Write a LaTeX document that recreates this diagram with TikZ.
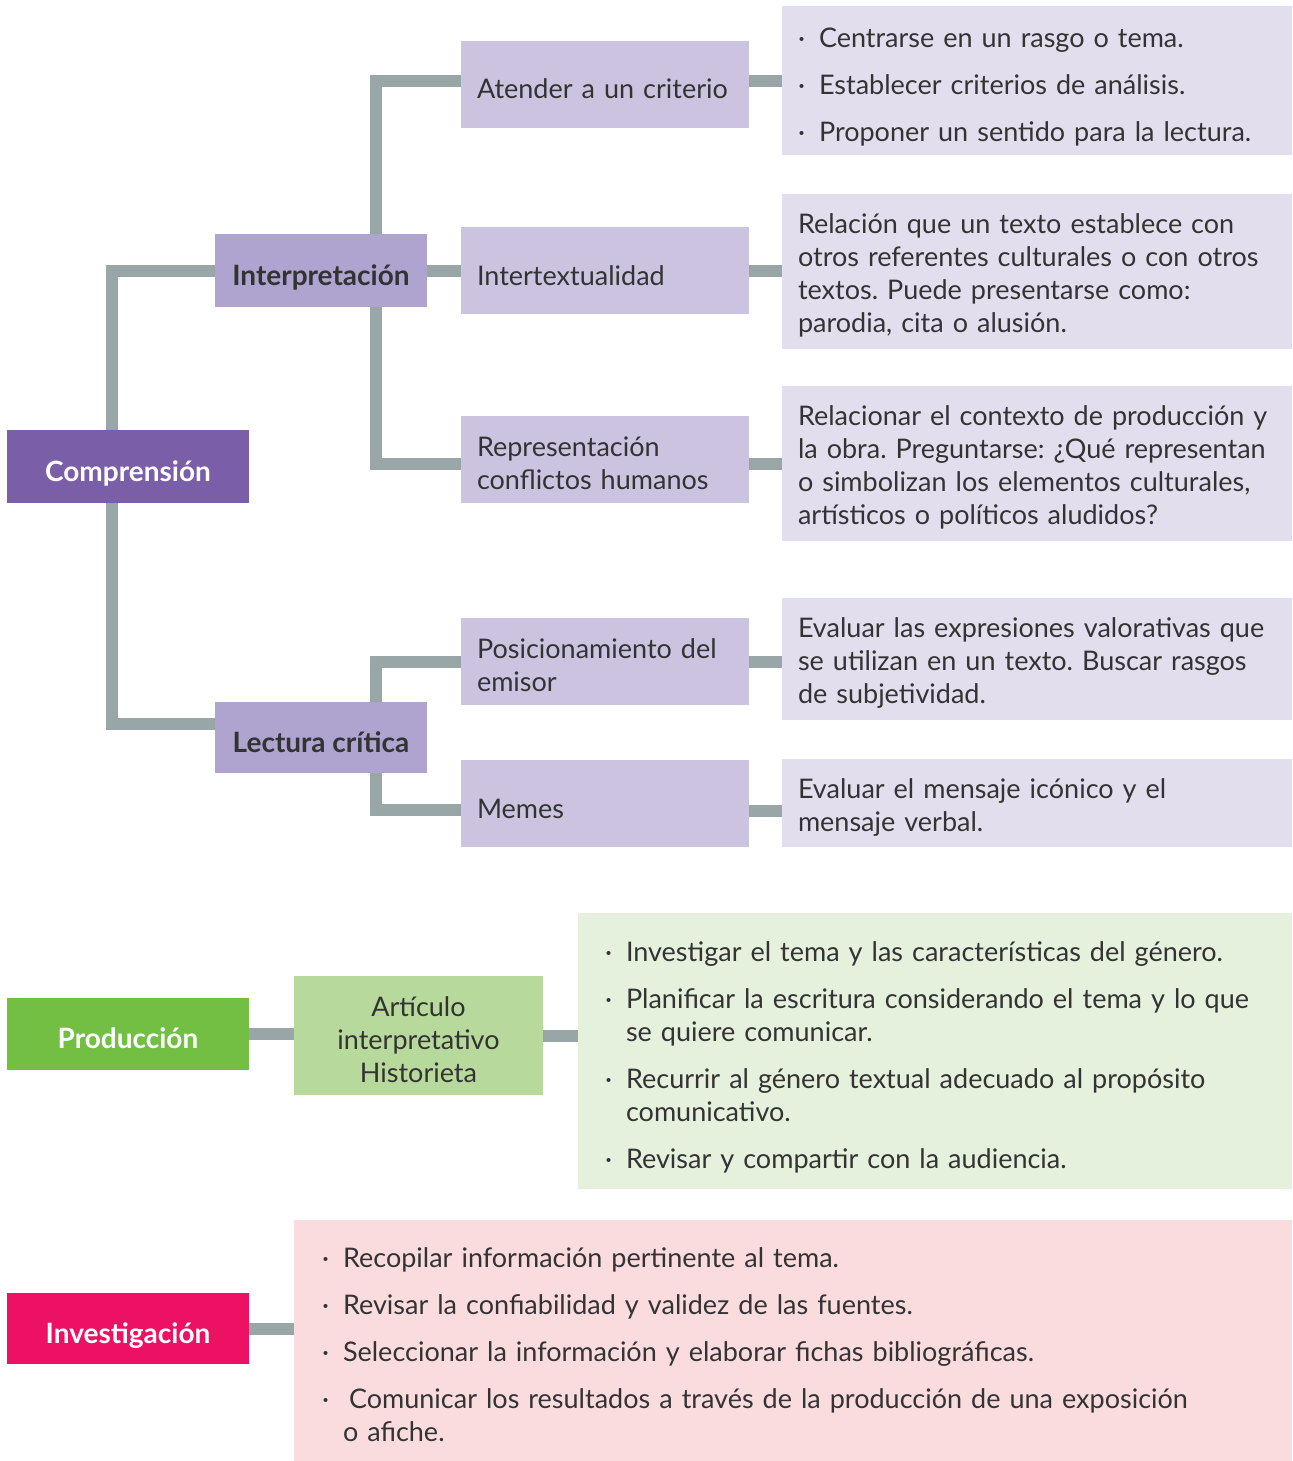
\documentclass[tikz,border=0pt]{standalone}
\usepackage{xcolor}
\usepackage{fontspec}
\setmainfont{Lato}
\usepackage{tikz}
\usetikzlibrary{positioning,calc}

\definecolor{linegray}{HTML}{98A6A8}
\definecolor{ink}{HTML}{333333}
\definecolor{purpleA}{HTML}{7A5EA8}
\definecolor{purpleB}{HTML}{AFA3CF}
\definecolor{purpleC}{HTML}{CCC3E1}
\definecolor{purpleD}{HTML}{E2DEEE}
\definecolor{greenA}{HTML}{72BF44}
\definecolor{greenB}{HTML}{B7DA9C}
\definecolor{greenC}{HTML}{E5F0DD}
\definecolor{pinkA}{HTML}{ED1164}
\definecolor{pinkC}{HTML}{FADCDF}

\frenchspacing
\newcommand{\tf}{\fontsize{13.5}{16.5}\selectfont}
\newcommand{\hf}{\fontsize{14}{16.5}\selectfont\bfseries}
\newcommand{\lowstrut}{\rule[-3pt]{0pt}{17pt}}
\newcommand{\onestrut}{\rule[-3pt]{0pt}{20.5pt}}
\newcommand{\blist}[1]{\begin{tabular}{@{}l@{\hspace{7pt}}l@{}}#1\end{tabular}}
\newcommand{\bfirst}{\rule{0pt}{19pt}·}

\begin{document}
\begin{tikzpicture}[x=0.5pt,y=-0.5pt,
  box/.style={rectangle, inner xsep=8pt, inner ysep=0pt, text=ink, font=\tf},
  head/.style={box, align=center, text=white, font=\hf, minimum width=121pt, minimum height=36pt},
  sub/.style={box, align=center, fill=purpleB, font=\hf, minimum width=106pt, minimum height=36.5pt},
  item/.style={box, fill=purpleC, text width=128pt, align=left, minimum height=43.5pt},
  desc/.style={box, fill=purpleD, text width=239pt, align=left},
  link/.style={draw=linegray, line width=6pt},
  ]
\useasboundingbox (0,0) rectangle (1292,1461);

% Comprension tree
\node[head, fill=purpleA, minimum height=36.5pt] (comp) at (128,466.5) {\onestrut Comprensión};
\node[sub] (interp) at (321,270.5) {\onestrut Interpretación};
\node[sub, minimum height=35.5pt] (lectura) at (321,737.5) {\onestrut Lectura crítica};

\node[item] (atender) at (605,84.5) {\onestrut Atender a un criterio};
\node[item] (intertext) at (605,270.5) {\onestrut Intertextualidad};
\node[item] (repres) at (605,459.5) {\lowstrut Representación\\conflictos humanos};
\node[item] (posic) at (605,661.5) {\lowstrut Posicionamiento del\\emisor};
\node[item] (memes) at (605,803.5) {\onestrut Memes};

% Descriptions
\node[desc, minimum height=74.5pt] (d1) at (1037,80.5) {\blist{\bfirst&Centrarse en un rasgo o tema.\\[7pt]
  ·&Establecer criterios de análisis.\\[7pt]
  ·&Proponer un sentido para la lectura.}};
\node[desc, minimum height=77.5pt] (d2) at (1037,271.5) {\lowstrut Relación que un texto establece con\\otros referentes culturales o con otros\\textos. Puede presentarse como:\\parodia, cita o alusión.};
\node[desc, minimum height=77.5pt] (d3) at (1037,463.5) {\lowstrut Relacionar el contexto de producción y\\la obra. Preguntarse: ¿Qué representan\\o simbolizan los elementos culturales,\\artísticos o políticos aludidos?};
\node[desc, minimum height=61pt] (d4) at (1037,659) {\lowstrut Evaluar las expresiones valorativas que\\se utilizan en un texto. Buscar rasgos\\de subjetividad.};
\node[desc, minimum height=44pt] (d5) at (1037,803) {\lowstrut Evaluar el mensaje icónico y el\\mensaje verbal.};

% Produccion
\node[head, fill=greenA] (prod) at (128,1034) {\onestrut Producción};
\node[box, fill=greenB, align=center, minimum width=124.5pt, minimum height=59.5pt] (articulo) at (418.5,1035.5) {\lowstrut Artículo\\interpretativo\\Historieta};
\node[box, fill=greenC, inner xsep=13.5pt, text width=330pt, align=left, minimum height=138pt] (dprod) at (935,1051) {\blist{\bfirst&Investigar el tema y las características del género.\\[7pt]
  ·&Planificar la escritura considerando el tema y lo que\\&se quiere comunicar.\\[7pt]
  ·&Recurrir al género textual adecuado al propósito\\&comunicativo.\\[7pt]
  ·&Revisar y compartir con la audiencia.}};

% Investigacion
\node[head, fill=pinkA, minimum height=35.5pt] (invest) at (128,1328.5) {\onestrut Investigación};
\node[box, fill=pinkC, inner xsep=14pt, text width=471pt, align=left, minimum height=120.5pt] (dinvest) at (793,1340.5) {\blist{\bfirst&Recopilar información pertinente al tema.\\[7pt]
  ·&Revisar la confiabilidad y validez de las fuentes.\\[7pt]
  ·&Seleccionar la información y elaborar fichas bibliográficas.\\[7pt]
  ·&\hspace{3pt}Comunicar los resultados a través de la producción de una exposición\\&o afiche.}};

% Connectors
\draw[link] ([xshift=-8pt]comp.north) |- (interp.west);
\draw[link] ([xshift=-8pt]comp.south) |- ([yshift=6.75pt]lectura.west);
\draw[link] ([xshift=27.5pt]interp.north) |- ([yshift=1.75pt]atender.west);
\draw[link] (interp.east) -- (intertext.west);
\draw[link] ([xshift=27.5pt]interp.south) |- ([yshift=-2.25pt]repres.west);
\draw[link] ([xshift=27.5pt]lectura.north) |- (posic.west);
\draw[link] ([xshift=27.5pt]lectura.south) |- ([yshift=-3.25pt]memes.west);
\foreach \a/\b/\s in {atender/d1/1.75pt, intertext/d2/0pt, repres/d3/-2.25pt, posic/d4/0pt, memes/d5/-3.5pt}
    \draw[link] ([yshift=\s]\a.east) -- ([yshift=\s]\a.east -| \b.west);

\draw[link] (prod.east) -- (prod.east -| articulo.west);
\draw[link] (articulo.east) -- (articulo.east -| dprod.west);
\draw[link] (invest.east) -- (invest.east -| dinvest.west);
\end{tikzpicture}
\end{document}
